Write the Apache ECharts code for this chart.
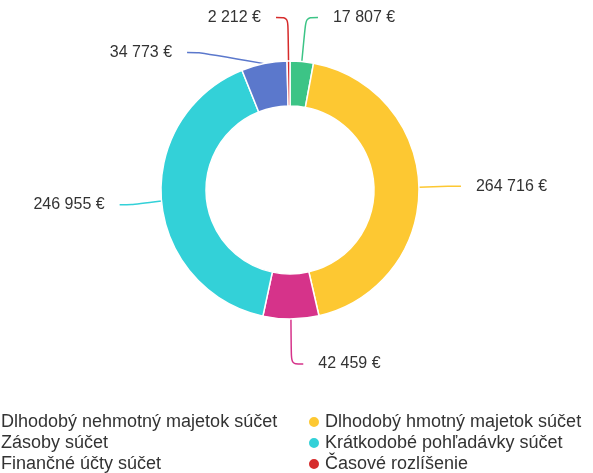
<!DOCTYPE html>
<html><head><meta charset="utf-8">
<script src="https://cdn.jsdelivr.net/npm/echarts@6/dist/echarts.min.js"></script>
<style>html,body{margin:0;padding:0;background:#fff}#c{width:593px;height:473px}</style>
</head><body><div id="c"></div>
<script>
const categories = ["Dlhodobý nehmotný majetok súčet","Dlhodobý hmotný majetok súčet","Zásoby súčet","Krátkodobé pohľadávky súčet","Finančné účty súčet","Časové rozlíšenie"];
const values = [17807, 264716, 42459, 246955, 34773, 2212];
const colors = ["#3cc486","#fdc832","#d6338a","#33d1d8","#5b78cc","#d62b2b"];
const font = "'Liberation Sans', Arial, sans-serif";
function fmt(v){return String(v).replace(/\B(?=(\d{3})+(?!\d))/g,' ')+' €';}
const chart = echarts.init(document.getElementById('c'));
const legendCommon = {orient:'vertical', itemWidth:12, itemHeight:12, itemGap:3, icon:'circle', height:80,
  textStyle:{fontSize:18, color:'#333', fontFamily:font}};
chart.setOption({
  animation:false,
  color: colors,
  legend:[
    Object.assign({left:-22, top:408, data:categories.filter((c,i)=>i%2===0)}, legendCommon),
    Object.assign({left:302, top:408, data:categories.filter((c,i)=>i%2===1)}, legendCommon)
  ],
  series:[{
    type:'pie', center:[290,190], radius:[84,129], startAngle:90, clockwise:true,
    avoidLabelOverlap:true,
    itemStyle:{borderColor:'#fff', borderWidth:1.5},
    label:{formatter:p=>fmt(p.value), fontSize:16, lineHeight:33, color:'#333', fontFamily:font, distanceToLabelLine:15},
    labelLine:{length:45, length2:12, smooth:true, lineStyle:{width:1.5}},
    data: categories.map((c,i)=>({name:c, value:values[i]}))
  }]
});
</script></body></html>
